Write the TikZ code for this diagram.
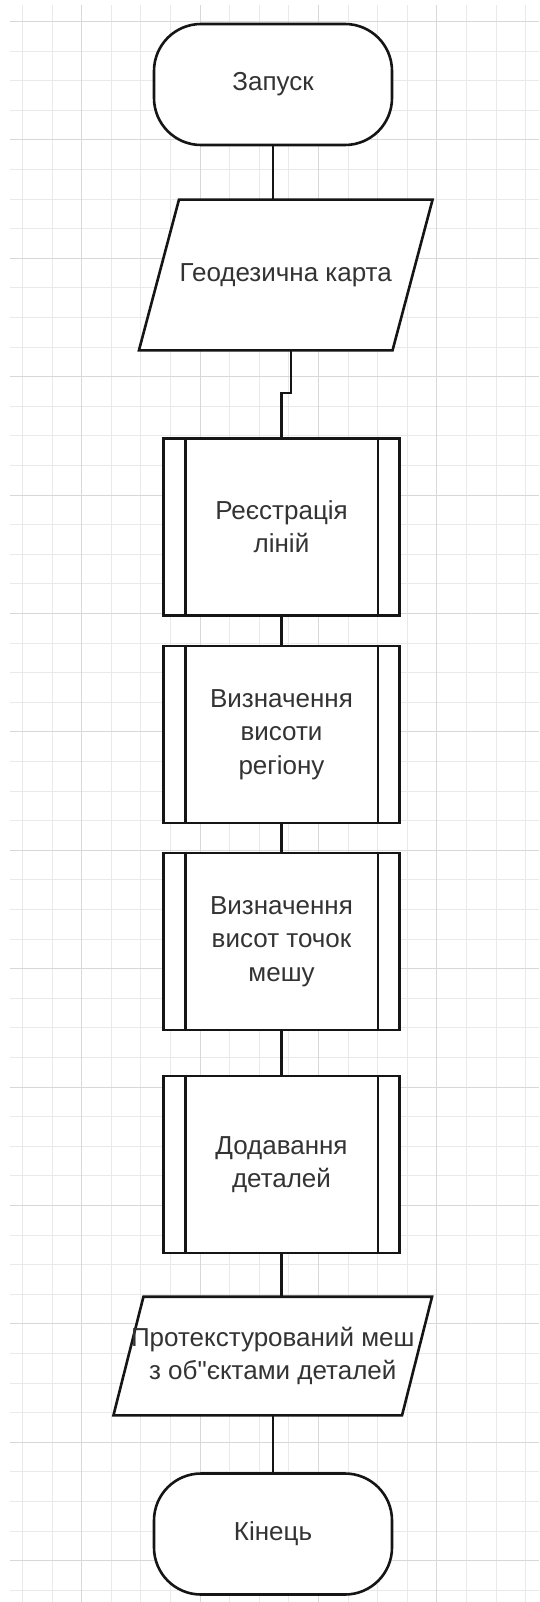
\documentclass[tikz,border=0pt]{standalone}
\usepackage{fontspec}
\setmainfont{Liberation Sans}[Ligatures=TeXOff]
\usetikzlibrary{backgrounds}
\definecolor{gridlight}{HTML}{E9E9E9}
\definecolor{griddark}{HTML}{D8D8D8}
\definecolor{inkgray}{HTML}{333333}
\definecolor{strokeblack}{HTML}{151515}

\tikzset{
  chart/.style={draw=strokeblack, line width=2.6pt, fill=white, text=inkgray,
    font=\fontsize{26}{33.3}\selectfont, align=center, inner sep=0pt},
  terminal/.style={chart, rectangle, rounded corners=47pt, minimum width=238pt, minimum height=121pt},
  iobox/.style={chart, rectangle, draw=none, fill=none},
  procbox/.style={chart, rectangle, minimum width=236pt, minimum height=177pt},
  link/.style={draw=strokeblack, line width=2.6pt}
}

\begin{document}
\begin{tikzpicture}[x=1pt,y=-1pt]
    \useasboundingbox (0,0) rectangle (539,1602);
    % squared paper
    \begin{scope}[on background layer]
      \fill[white] (0,0) rectangle (539,1602);
      \foreach \i in {0,...,17}
        \draw[gridlight, line width=1pt] (22.5+29.6*\i,5) -- (22.5+29.6*\i,1602);
      \foreach \j in {0,...,53}
        \draw[gridlight, line width=1pt] (10,21.5+29.6*\j) -- (539,21.5+29.6*\j);
      \foreach \i in {2,6,10,14}
        \draw[griddark, line width=1pt] (22.5+29.6*\i,5) -- (22.5+29.6*\i,1602);
      \foreach \j in {0,4,...,52}
        \draw[griddark, line width=1pt] (10,21.5+29.6*\j) -- (539,21.5+29.6*\j);
    \end{scope}

    \node[terminal] (start) at (273,84.5) {Запуск};
    \node[iobox, minimum width=251pt, minimum height=148pt] (geo) at (285.75,275) {Геодезична карта};
    \node[procbox] (reg) at (281.5,527) {Реєстрація\\ліній};
    \node[procbox] (regh) at (281.5,734.5) {Визначення\\висоти\\регіону};
    \node[procbox] (meshh) at (281.5,941.5) {Визначення\\висот точок\\мешу};
    \node[procbox] (detail) at (281.5,1164.5) {Додавання\\деталей};
    \node[iobox, minimum width=286pt, minimum height=116pt] (out) at (272.75,1356)
      {Протекстурований меш\\з об"єктами деталей};
    \node[terminal] (end) at (273,1534) {Кінець};

    % slanted outlines of the data nodes
    \begin{scope}[on background layer]
      \foreach \n/\s in {geo/20,out/15}
        \draw[link, fill=white] ([xshift=\s pt]\n.north west) -- ([xshift=\s pt]\n.north east)
          -- ([xshift=-\s pt]\n.south east) -- ([xshift=-\s pt]\n.south west) -- cycle;
    \end{scope}

    % side bars of the predefined processes
    \foreach \n in {reg,regh,meshh,detail} {
      \draw[link] ([xshift=23pt]\n.north west) -- ([xshift=23pt]\n.south west);
      \draw[link] ([xshift=-23pt]\n.north east) -- ([xshift=-23pt]\n.south east);
    }

    \coordinate (geoout) at (291,349);
    \coordinate (jog) at (291,393);
    \draw[link] (start.south) -- (start.south |- geo.north);
    \draw[link] (geoout) -- (jog) -| (reg.north);
    \draw[link] (reg) -- (regh);
    \draw[link] (regh) -- (meshh);
    \draw[link] (meshh) -- (detail);
    \draw[link] (detail.south) -- (detail.south |- out.north);
    \draw[link] (out.south -| end.north) -- (end.north);
  \end{tikzpicture}
\end{document}
